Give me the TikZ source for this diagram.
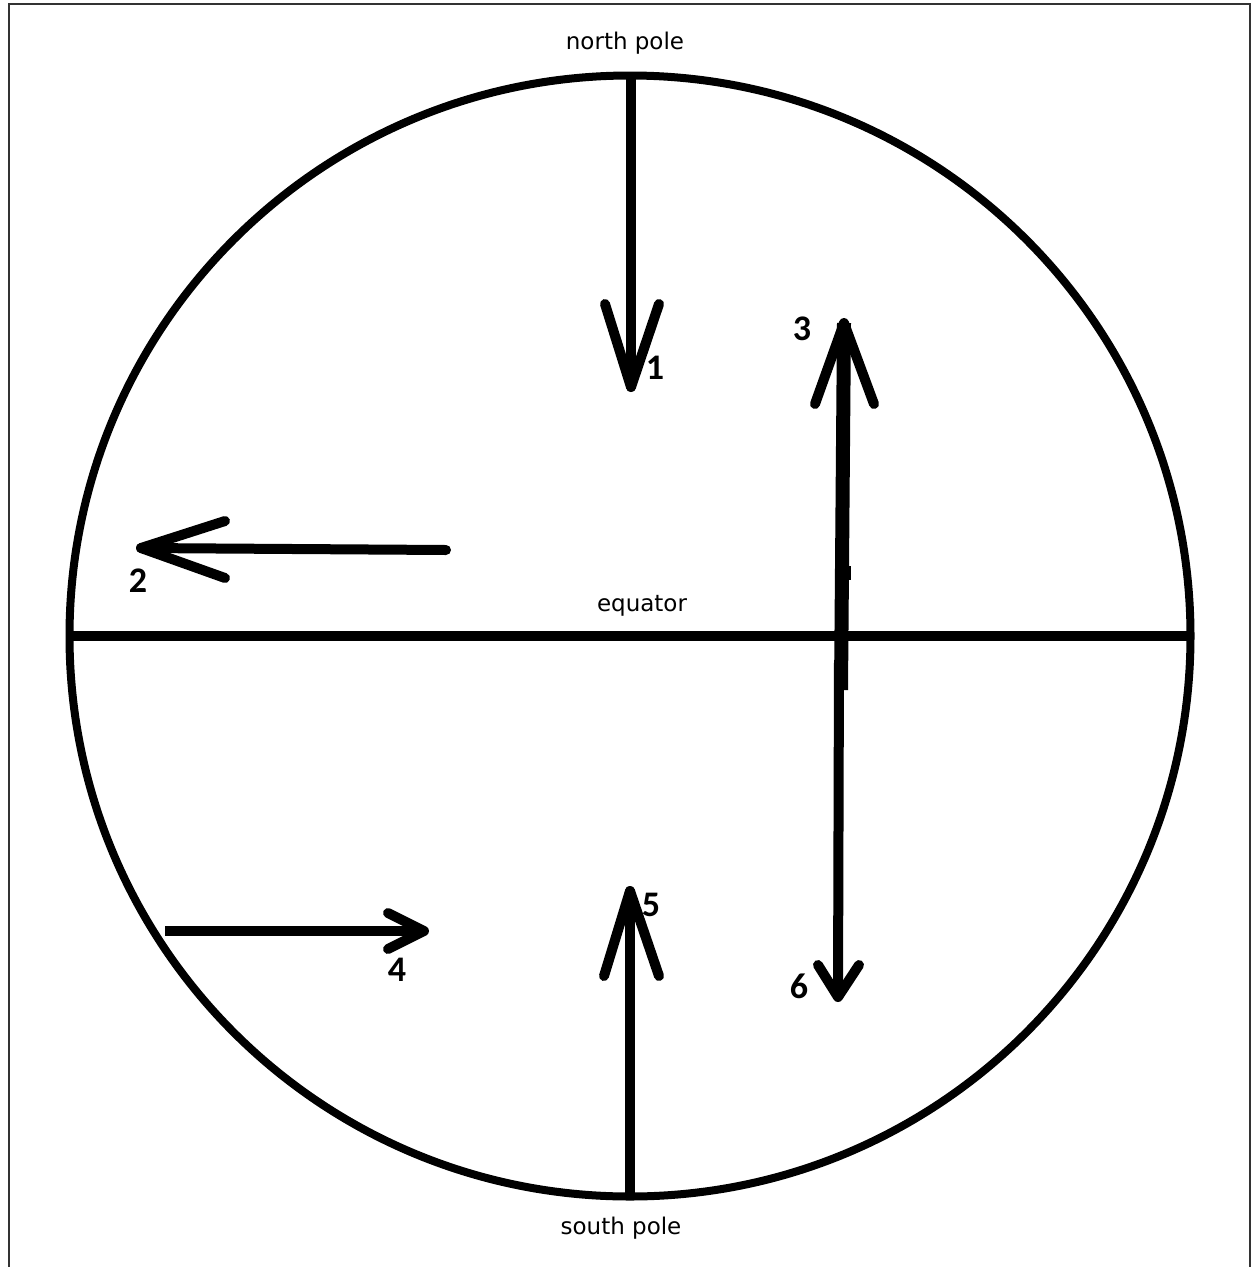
\documentclass[tikz,border=0pt]{standalone}
\usepackage{fontspec}
\setmainfont{DejaVu Sans}
\newfontfamily\numfont{Carlito}
\begin{document}
\begin{tikzpicture}[x=1pt,y=-1pt,
  ink/.style={line width=10pt,line cap=round,line join=round,black},
  lbl/.style={font=\fontsize{23}{26}\selectfont,inner sep=0pt},
  num/.style={font=\numfont\bfseries\fontsize{36}{40}\selectfont,inner sep=0pt}]
\useasboundingbox (0,0) rectangle (1253,1267);
\fill[white] (0,0) rectangle (1253,1267);
\draw[line width=2pt,black!80] (9,1275) -- (9,4) -- (1250,4) -- (1250,1275);
% globe
\node[circle,draw,line width=8pt,minimum size=1121pt,inner sep=0pt] (globe) at (630,636) {};
\coordinate (eqW) at (70,636);
\coordinate (eqE) at (1190,636);
\draw[line width=10pt] (eqW) -- (eqE);
% texts
\node[lbl] (np) at (625,43) {north pole};
\node[lbl] (eq) at (642,606) {equator};
\node[lbl] (sp) at (621,1228) {south pole};
% arrow 1
\coordinate (a1s) at (631,78);
\coordinate (a1t) at (631,387);
\coordinate (a1l) at (605,304);
\coordinate (a1r) at (659,304);
\draw[ink] (a1s) -- (a1t);
\draw[ink] (a1l) -- (a1t) -- (a1r);
\node[num] (n1) at (655,368) {1};
% arrow 2
\coordinate (a2s) at (446,550);
\coordinate (a2t) at (141,548);
\coordinate (a2u) at (225,521);
\coordinate (a2d) at (225,578);
\draw[ink] (a2s) -- (a2t);
\draw[ink] (a2u) -- (a2t) -- (a2d);
\node[num] (n2) at (138,581) {2};
% arrow 3
\coordinate (a3s) at (841,690);
\coordinate (a3t) at (844,323);
\coordinate (a3l) at (815,404);
\coordinate (a3r) at (874,404);
\draw[ink,line width=14pt,line cap=butt] (a3s) -- (a3t);
\draw[ink] (a3l) -- (a3t) -- (a3r);
\draw[line width=5pt] (848,566) -- (848,580);
\node[num] (n3) at (802,329) {3};
% arrow 4
\coordinate (a4s) at (165,931);
\coordinate (a4t) at (424,931);
\coordinate (a4u) at (388,913);
\coordinate (a4d) at (388,949);
\draw[ink,line cap=butt] (a4s) -- (a4t);
\draw[ink] (a4u) -- (a4t) -- (a4d);
\node[num] (n4) at (397,970) {4};
% arrow 5
\coordinate (a5s) at (630,1195);
\coordinate (a5t) at (630,891);
\coordinate (a5l) at (604,976);
\coordinate (a5r) at (659,976);
\draw[ink] (a5s) -- (a5t);
\draw[ink] (a5l) -- (a5t) -- (a5r);
\node[num] (n5) at (651,905) {5};
% arrow 6
\coordinate (a6s) at (839,660);
\coordinate (a6t) at (838,997);
\coordinate (a6l) at (818,965);
\coordinate (a6r) at (859,965);
\draw[ink,line cap=butt] (a6s) -- (a6t);
\draw[ink] (a6l) -- (a6t) -- (a6r);
\node[num] (n6) at (799,986) {6};
\end{tikzpicture}
\end{document}
